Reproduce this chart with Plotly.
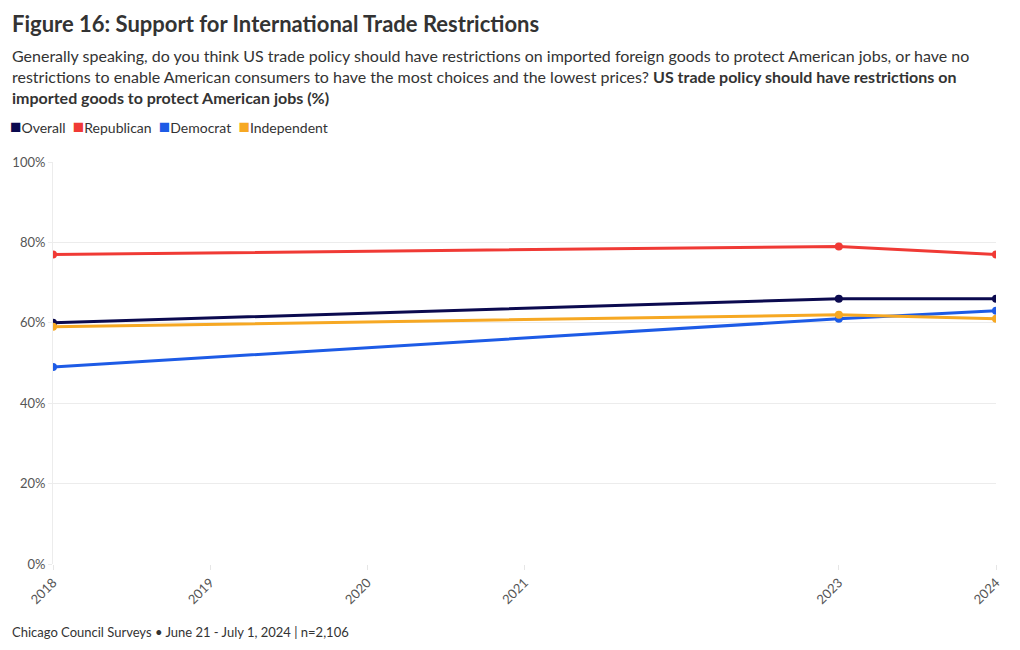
import plotly.graph_objects as go

years = [2018, 2023, 2024]
overall = [60, 66, 66]
republican = [77, 79, 77]
democrat = [49, 61, 63]
independent = [59, 62, 61]

tick_years = [2018, 2019, 2020, 2021, 2023, 2024]
y_ticks = [0, 20, 40, 60, 80, 100]

series = [
    ("Overall", overall, "#0b0a4f"),
    ("Republican", republican, "#f03a35"),
    ("Democrat", democrat, "#1d5be6"),
    ("Independent", independent, "#f6a823"),
]

FONT = "Lato"
fig = go.Figure()
for name, vals, col in series:
    fig.add_trace(go.Scatter(
        x=years, y=vals, name=name, mode="lines+markers",
        line=dict(color=col, width=3), marker=dict(color=col, size=8),
        showlegend=False,
    ))

H = 402.0  # plot height in px
W = 943.0

fig.update_layout(
    width=1020, height=650,
    margin=dict(l=53, r=24, t=162, b=86),
    paper_bgcolor="white", plot_bgcolor="white",
    font=dict(family=FONT, color="#333333", size=13),
    showlegend=False,
    xaxis=dict(range=[2018, 2024], tickvals=tick_years, ticktext=[str(t) for t in tick_years],
               tickangle=-45, showgrid=False, zeroline=False,
               showline=False, ticks="outside", ticklen=5, tickcolor="#e6e6e6",
               tickfont=dict(size=13, color="#555555")),
    yaxis=dict(range=[0, 100], tickvals=y_ticks, ticktext=[f"{v}%" for v in y_ticks],
               showgrid=True, gridcolor="#ececec", zeroline=False,
               showline=True, linecolor="#ececec", linewidth=1,
               ticks="outside", ticklen=4, tickcolor="#ececec",
               tickfont=dict(size=13, color="#555555")),
)

px_x = lambda px: (px - 53) / W
px_y = lambda py: (564 - py) / H

fig.add_annotation(text="<b>Figure 16: Support for International Trade Restrictions</b>",
                   xref="paper", yref="paper", x=px_x(10), y=px_y(23), xanchor="left", yanchor="middle",
                   showarrow=False, font=dict(size=22, color="#333333", family=FONT))
subtitle = ("Generally speaking, do you think US trade policy should have restrictions on imported foreign goods to protect American jobs, or have no<br>"
            "restrictions to enable American consumers to have the most choices and the lowest prices? <b>US trade policy should have restrictions on</b><br>"
            "<b>imported goods to protect American jobs (%)</b>")
fig.add_annotation(text=subtitle, xref="paper", yref="paper", x=px_x(10), y=px_y(44), xanchor="left", yanchor="top",
                   align="left", showarrow=False, font=dict(size=16, color="#333333", family=FONT))

legend_txt = "&nbsp;&nbsp;".join(
    f"<span style='color:{col};font-size:19px'>■</span>{name}" for name, _, col in series)
fig.add_annotation(text=legend_txt, xref="paper", yref="paper", x=px_x(8), y=px_y(126),
                   xanchor="left", yanchor="middle", align="left", showarrow=False,
                   font=dict(size=14, color="#333333", family=FONT))

fig.add_annotation(text="Chicago Council Surveys • June 21 - July 1, 2024 | n=2,106",
                   xref="paper", yref="paper", x=px_x(10), y=px_y(632), xanchor="left", yanchor="middle",
                   showarrow=False, font=dict(size=13, color="#333333", family=FONT))

fig.write_html("out.html")
